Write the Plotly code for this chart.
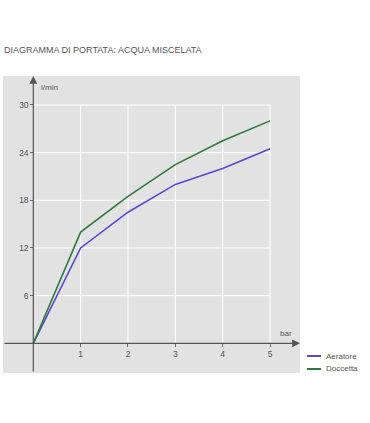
import plotly.graph_objects as go

pressure_bar = [0, 1, 2, 3, 4, 5]
aeratore = [0, 12, 16.5, 20, 22, 24.5]
doccetta = [0, 14, 18.5, 22.5, 25.5, 28]
x_ticks = [1, 2, 3, 4, 5]
y_ticks = [6, 12, 18, 24, 30]
series_names = ["Aeratore", "Doccetta"]
series_colors = ["#5a48d4", "#2f7a3c"]
title_text = "DIAGRAMMA DI PORTATA: ACQUA MISCELATA"
x_unit = "bar"
y_unit = "l/min"

XMIN, XMAX = -0.64, 5.633
YMIN, YMAX = -3.74, 33.65
FONT = "Liberation Sans"
TXT = "#555555"
AX = "#6a6a6a"

fig = go.Figure()
for name, vals, col in zip(series_names, [aeratore, doccetta], series_colors):
    fig.add_trace(go.Scatter(x=pressure_bar, y=vals, mode="lines", name=name,
                             line=dict(color=col, width=1.6), showlegend=False,
                             hoverinfo="skip"))

shapes = []
for xv in x_ticks:
    shapes.append(dict(type="line", xref="x", yref="y", x0=xv, x1=xv, y0=0, y1=max(y_ticks),
                       line=dict(color="white", width=1), layer="below"))
for yv in y_ticks:
    shapes.append(dict(type="line", xref="x", yref="y", x0=0, x1=max(x_ticks), y0=yv, y1=yv,
                       line=dict(color="white", width=1), layer="below"))

# manual legend
leg_y = [0.0572, 0.0135]
for name, col, ly in zip(series_names, series_colors, leg_y):
    shapes.append(dict(type="line", xref="paper", yref="paper", x0=1.0236, x1=1.0707,
                       y0=ly, y1=ly, line=dict(color=col, width=2)))

annotations = [
    dict(x=XMAX, y=0, ax=XMIN, ay=0, xref="x", yref="y", axref="x", ayref="y",
         text="", showarrow=True, arrowhead=2, arrowsize=1.3, arrowwidth=1.2, arrowcolor="#555"),
    dict(x=0, y=YMAX, ax=0, ay=YMIN, xref="x", yref="y", axref="x", ayref="y",
         text="", showarrow=True, arrowhead=2, arrowsize=1.3, arrowwidth=1.2, arrowcolor="#555"),
    dict(x=0, y=YMAX, xref="x", yref="y", text=y_unit, showarrow=False,
         xanchor="left", yanchor="top", xshift=6, yshift=-5, font=dict(size=8, color=TXT, family=FONT)),
    dict(x=XMAX, y=0, xref="x", yref="y", text=x_unit, showarrow=False,
         xanchor="right", yanchor="bottom", xshift=-6, yshift=3, font=dict(size=8, color=TXT, family=FONT)),
]
for name, ly in zip(series_names, leg_y):
    annotations.append(dict(x=1.081, y=ly, xref="paper", yref="paper", text=name, showarrow=False,
                            xanchor="left", yanchor="middle", font=dict(size=8, color=TXT, family=FONT)))

fig.update_layout(
    width=370, height=423,
    margin=dict(l=3, r=70, t=76, b=50),
    paper_bgcolor="white",
    plot_bgcolor="#e2e2e2",
    title=dict(text=title_text, x=0.011, xanchor="left", y=0.882, yanchor="middle",
               font=dict(size=9, color="#555", family=FONT)),
    shapes=shapes,
    annotations=annotations,
    showlegend=False,
    xaxis=dict(range=[XMIN, XMAX], showgrid=False, zeroline=False, showline=False,
               tickvals=x_ticks, ticks="outside", ticklen=3, tickcolor=AX,
               anchor="free", position=(0 - YMIN) / (YMAX - YMIN),
               tickfont=dict(size=8.5, color=TXT, family=FONT), fixedrange=True),
    yaxis=dict(range=[YMIN, YMAX], showgrid=False, zeroline=False, showline=False,
               tickvals=y_ticks, ticks="outside", ticklen=3, tickcolor=AX,
               anchor="free", position=(0 - XMIN) / (XMAX - XMIN),
               tickfont=dict(size=8.5, color=TXT, family=FONT), fixedrange=True),
)

fig.write_html("out.html", config={"displayModeBar": False},
               post_script="document.body.style.margin='0px';document.body.style.overflow='hidden';")
